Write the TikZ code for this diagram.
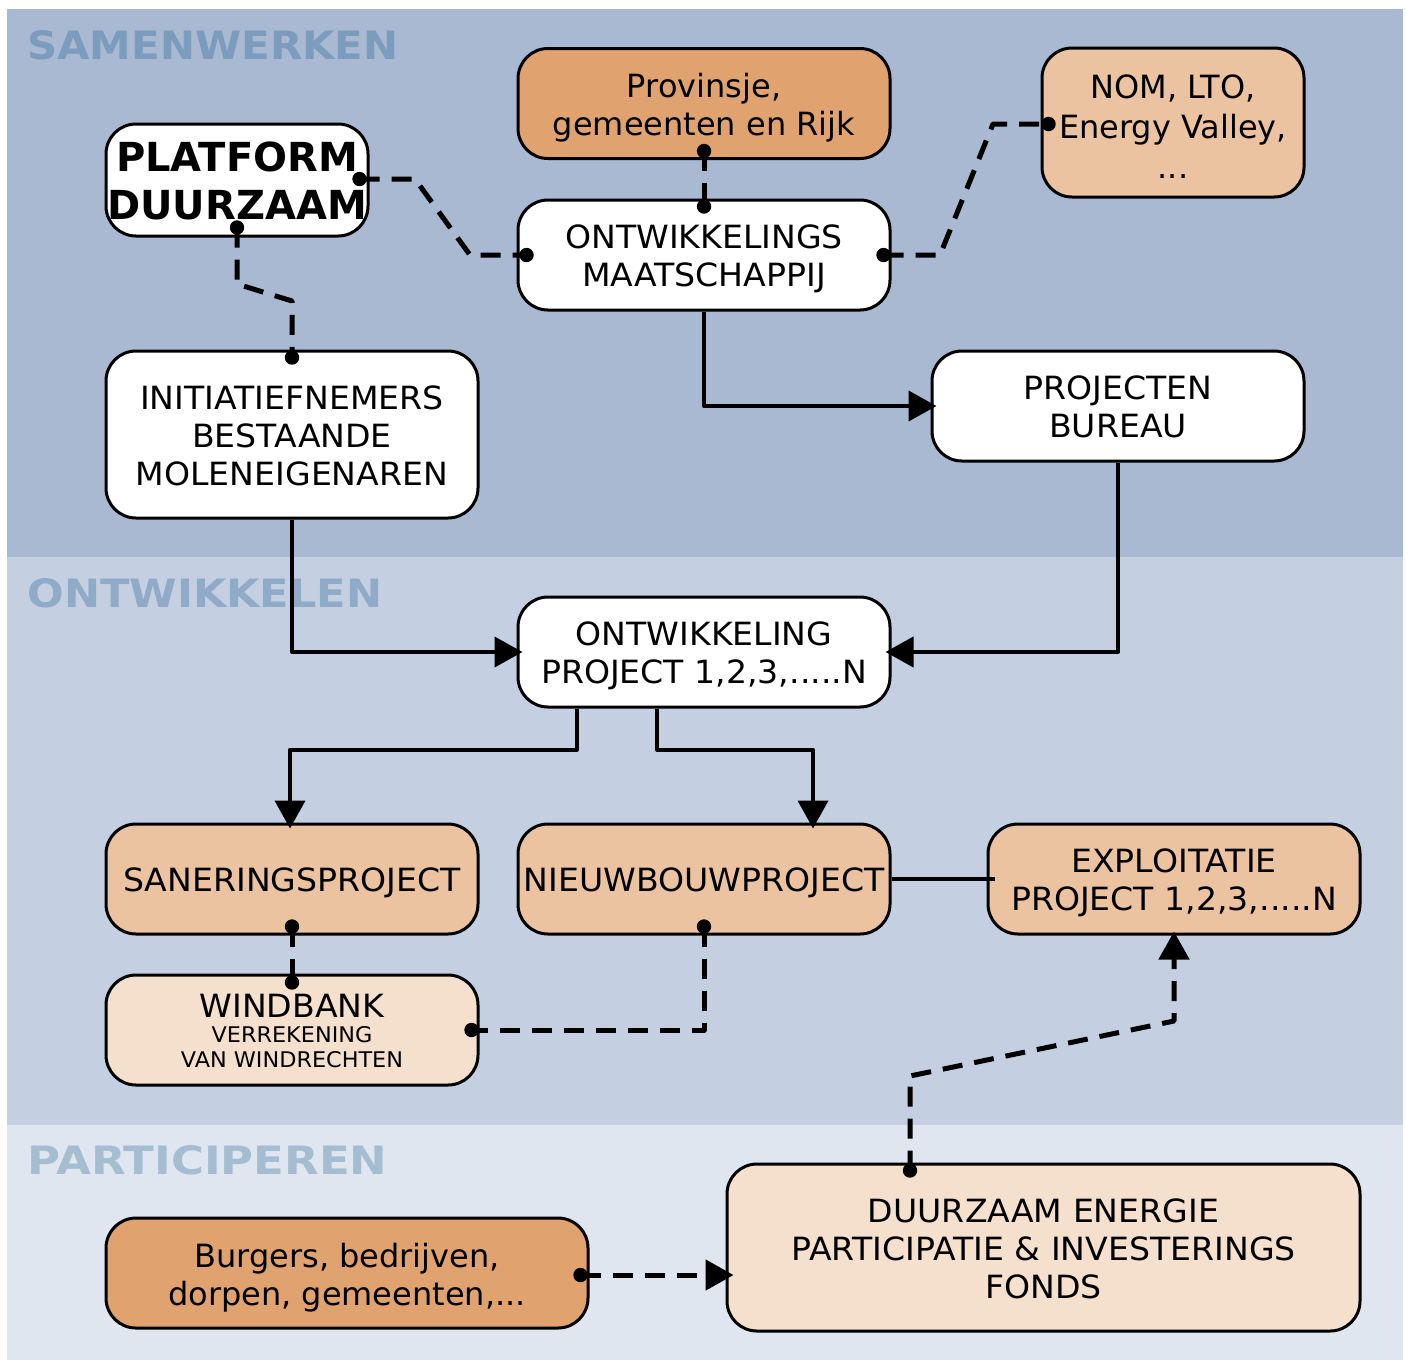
\documentclass[tikz,border=0pt]{standalone}
\usepackage{fontspec}
\setmainfont[FakeStretch=1.035]{DejaVu Sans}
\newfontfamily\plainfont{DejaVu Sans}
\usetikzlibrary{arrows.meta,calc}
\definecolor{bandA}{HTML}{A9B9D1}
\definecolor{bandB}{HTML}{C4D0E2}
\definecolor{bandC}{HTML}{DFE6EF}
\definecolor{titleA}{HTML}{7C9CBD}
\definecolor{titleB}{HTML}{8FABC8}
\definecolor{titleC}{HTML}{A4BDD1}
\definecolor{orangeD}{HTML}{E0A36F}
\definecolor{orangeL}{HTML}{ECC3A0}
\definecolor{orangeX}{HTML}{F5E0CD}
\newcommand\boxtext[2][2.5pt]{\raisebox{-#1}[\height][\depth]{\begin{tabular}{@{}c@{}}#2\end{tabular}}}
\tikzset{
  box/.style={draw=black, line width=1.5pt, rounded corners=15pt, minimum width=186pt,
    minimum height=55pt, inner sep=0pt, font=\fontsize{16}{19}\selectfont},
  solidc/.style={line width=2pt, line join=round},
  dashc/.style={line width=2.5pt, dash pattern=on 10pt off 6pt, line join=round},
  tipc/.style={-{Triangle[length=14pt,width=15pt]}},
  sect/.style={anchor=north west, inner sep=0pt, font=\plainfont\bfseries},
}
\begin{document}
\begin{tikzpicture}[x=0.5pt,y=-0.5pt]
\useasboundingbox (0,0) rectangle (1407,1362);
\fill[white] (0,0) rectangle (1407,1362);
\fill[bandA] (7,9) rectangle (1403,557);
\fill[bandB] (7,557) rectangle (1403,1125);
\fill[bandC] (7,1125) rectangle (1403,1360);

\node[sect, text=titleA] (tA) at (27,30) {\resizebox{185.5pt}{14.5pt}{SAMENWERKEN}};
\node[sect, text=titleB] (tB) at (27,578) {\resizebox{177.5pt}{14.5pt}{ONTWIKKELEN}};
\node[sect, text=titleC] (tC) at (27,1145) {\resizebox{180pt}{14.5pt}{PARTICIPEREN}};

\node[box, fill=white, minimum width=131pt, minimum height=56pt,
      font=\plainfont\fontsize{20}{24}\selectfont\bfseries] (plat) at (237,180) {\boxtext[3pt]{PLATFORM\\DUURZAAM}};
\node[box, fill=orangeD, font=\plainfont\fontsize{16}{19}\selectfont] (prov) at (704,103.5) {\boxtext{Provinsje,\\gemeenten en Rijk}};
\node[box, fill=orangeL, minimum width=131pt, minimum height=74.5pt, font=\plainfont\fontsize{16}{19}\selectfont] (nom) at (1173,122.5) {\boxtext[4pt]{NOM, LTO,\\[1pt]Energy Valley,\\[1pt]...}};
\node[box, fill=white] (ontw) at (704,255) {\boxtext{ONTWIKKELINGS\\MAATSCHAPPIJ}};
\node[box, fill=white, minimum height=83.5pt] (init) at (292,434.5) {\boxtext{INITIATIEFNEMERS\\BESTAANDE\\MOLENEIGENAREN}};
\node[box, fill=white] (bureau) at (1118,406) {\boxtext{PROJECTEN\\BUREAU}};
\node[box, fill=white] (proj) at (704,652) {\boxtext{ONTWIKKELING\\PROJECT 1,2,3,.....N}};
\node[box, fill=orangeL] (san) at (292,879) {\boxtext{SANERINGSPROJECT}};
\node[box, fill=orangeL] (nieuw) at (704,879) {\boxtext{NIEUWBOUWPROJECT}};
\node[box, fill=orangeL] (expl) at (1174,879) {\boxtext{EXPLOITATIE\\PROJECT 1,2,3,.....N}};
\node[box, fill=orangeX] (wind) at (292,1030) {\boxtext[2.25pt]{WINDBANK\\[-6.5pt]{\fontsize{10.8}{12.5}\selectfont VERREKENING}\\[-6.5pt]{\fontsize{10.8}{12.5}\selectfont VAN WINDRECHTEN}}};
\node[box, fill=orangeD, minimum width=241pt, font=\plainfont\fontsize{16}{19}\selectfont] (burg) at (347,1273) {\boxtext[3pt]{Burgers, bedrijven,\\dorpen, gemeenten,...}};
\node[box, fill=orangeX, minimum width=316.5pt, minimum height=83.5pt] (fonds) at (1043.5,1247.5) {\boxtext{DUURZAAM ENERGIE\\PARTICIPATIE \& INVESTERINGS\\FONDS}};

% dot coordinates
\coordinate (d1a) at ([yshift=4.5pt]prov.south);
\coordinate (d1b) at ([yshift=-4pt]ontw.north);
\coordinate (d2a) at ([xshift=-5pt,yshift=0.5pt]plat.east);
\coordinate (d2b) at ([xshift=5pt]ontw.west);
\coordinate (d3a) at ([xshift=-4pt]ontw.east);
\coordinate (d3b) at ([xshift=4pt,yshift=-0.75pt]nom.west);
\coordinate (d4a) at ([yshift=5pt]plat.south);
\coordinate (d4b) at ([yshift=-4pt]init.north);
\coordinate (d5a) at ([yshift=4.5pt]san.south);
\coordinate (d5b) at ([yshift=-4.5pt]wind.north);
\coordinate (d6a) at ([yshift=4.5pt]nieuw.south);
\coordinate (d6b) at ([xshift=-4pt]wind.east);
\coordinate (d7a) at ([xshift=-66.75pt,yshift=-4pt]fonds.north);
\coordinate (d8a) at ([xshift=-4.5pt,yshift=-1pt]burg.east);

% dashed links
\draw[dashc] (d1a) -- (d1b);
\draw[dashc] (d2a) -- (415,179) -- (470,255) -- (d2b);
\draw[dashc] (d3a) -- (940,255) -- (993,124) -- (d3b);
\draw[dashc] (d4a) -- (237,284) -- (292,301) -- (d4b);
\draw[dashc] (d5a) -- (d5b);
\draw[dashc] (d6a) |- (d6b);
\draw[dashc, tipc] (d7a) -- (910,1076) -- (1174,1021) -- ([yshift=2pt]expl.south);
\draw[dashc, tipc] (d8a) -- ($(d8a -| fonds.west)+(8,0)$);

% solid links
\draw[solidc, tipc] (ontw.south) |- ([xshift=3pt]bureau.west);
\draw[solidc, tipc] (init.south) |- ([xshift=3pt]proj.west);
\draw[solidc, tipc] (bureau.south) |- ([xshift=-3pt]proj.east);
\draw[solidc, tipc] ([xshift=-63.5pt]proj.south) -- ++(0,41) -| ([xshift=-1pt,yshift=-3pt]san.north);
\draw[solidc, tipc] ([xshift=-23.5pt]proj.south) -- ++(0,41) -| ([xshift=54.5pt,yshift=-3pt]nieuw.north);
\draw[solidc] (nieuw.east) -- ([xshift=4pt]expl.west);

% dots
\foreach \c in {d1a,d1b,d2a,d2b,d3a,d3b,d4a,d4b,d5a,d5b,d6a,d6b,d7a,d8a}
  \fill (\c) circle[radius=3.6pt];
\end{tikzpicture}
\end{document}
